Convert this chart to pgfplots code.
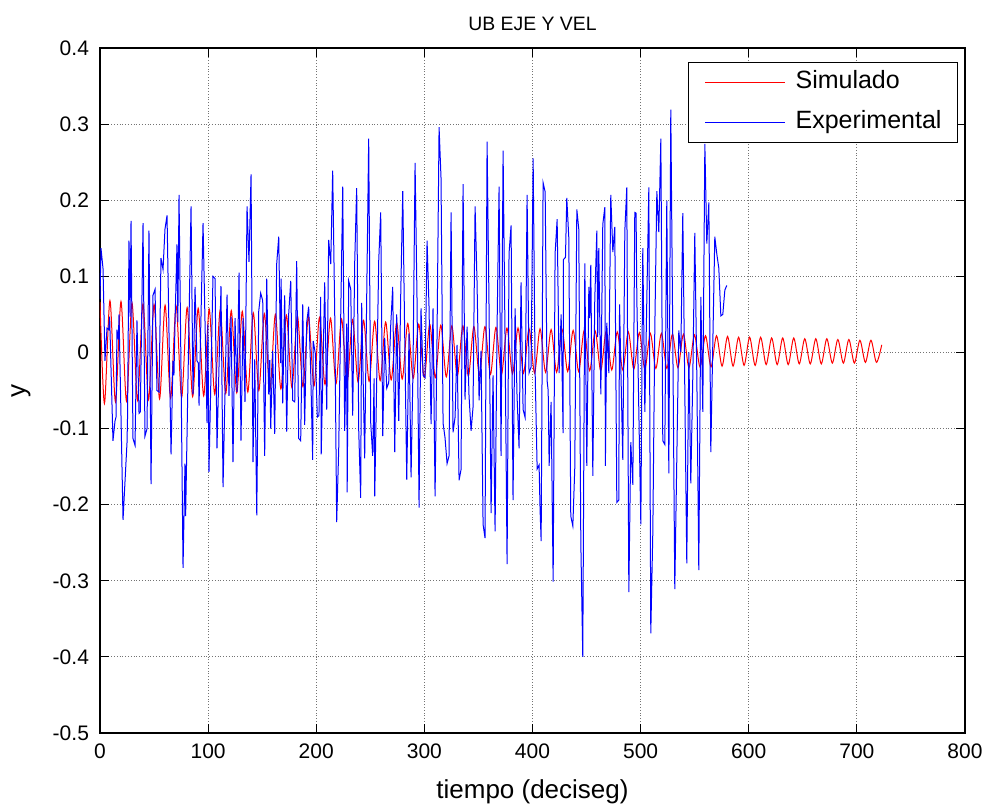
\documentclass[border=0pt]{standalone}
\usepackage{fontspec}
\setmainfont{Liberation Sans}
\usepackage{pgfplots}
\pgfplotsset{compat=1.18}

\begin{document}
\begin{tikzpicture}
\begin{axis}[
  width=432.5pt, height=342.5pt, scale only axis,
  xmin=0, xmax=800, ymin=-0.5, ymax=0.4,
  xtick={0,100,200,300,400,500,600,700,800},
  xticklabels={0,100,200,300,400,500,600,700,800},
  ytick={-0.5,-0.4,-0.3,-0.2,-0.1,0,0.1,0.2,0.3,0.4},
  yticklabels={-0.5,-0.4,-0.3,-0.2,-0.1,0,0.1,0.2,0.3,0.4},
  tick align=inside,
  major tick length=4.3pt,
  tick style={black, line width=0.5pt},
  axis line style={black, line width=0.6pt},
  grid=major,
  major grid style={densely dotted, black!55, line width=0.4pt},
  font=\fontsize{10.5}{12}\selectfont,
  ticklabel style={font=\fontsize{10.5}{12}\selectfont},
  xticklabel style={yshift=-2pt},
  yticklabel style={xshift=-2pt},
  title={UB EJE Y VEL},
  title style={at={(axis description cs:0.5,1)}, anchor=base, yshift=3pt,
    font=\fontsize{9.7}{11}\selectfont},
  xlabel={tiempo (deciseg)},
  xlabel style={at={(axis description cs:0.5,0)}, anchor=base, yshift=-32.5pt,
    font=\fontsize{13}{15}\selectfont},
  ylabel={y},
  ylabel style={at={(axis description cs:-0.0913,0.5)}, anchor=center, rotate=0,
    font=\fontsize{13}{15}\selectfont},
  legend cell align=left,
  legend image code/.code={\draw[#1] (0pt,0pt) -- (40pt,0pt);},
  legend style={
    at={(rel axis cs:1,1)}, anchor=north east, xshift=-3.5pt, yshift=-7pt,
    draw=black, line width=0.5pt, fill=white,
    font=\fontsize{12.5}{14}\selectfont,
    inner xsep=8pt, inner ysep=4.2pt, row sep=8.4pt,
    nodes={inner sep=0pt, text height=9pt, text depth=2.6pt},
    /tikz/every odd column/.append style={column sep=5pt},
  },
]

% simulated response: successive crests and troughs of the damped oscillation
\addplot[red, line width=0.5pt, smooth] coordinates {
(0,0.066) (4.1,-0.067) (9.2,0.068) (14.3,-0.065) (19.4,0.067) (24.5,-0.064)
(29.6,0.065) (34.7,-0.063) (39.8,0.064) (44.9,-0.062) (50.0,0.063) (55.1,-0.061)
(60.2,0.062) (65.3,-0.060) (70.4,0.061) (75.5,-0.059) (80.6,0.059) (85.7,-0.058)
(90.8,0.058) (95.9,-0.057) (101.0,0.057) (106.1,-0.055) (111.2,0.056) (116.3,-0.054)
(121.4,0.055) (126.5,-0.053) (131.6,0.054) (136.7,-0.052) (141.8,0.052) (146.9,-0.050)
(152.0,0.051) (157.1,-0.049) (162.2,0.050) (167.3,-0.048) (172.4,0.049) (177.5,-0.046)
(182.6,0.048) (187.7,-0.045) (192.8,0.047) (197.9,-0.044) (203.0,0.046) (208.1,-0.042)
(213.2,0.045) (218.3,-0.041) (223.4,0.044) (228.5,-0.040) (233.6,0.043) (238.7,-0.039)
(243.8,0.042) (248.9,-0.038) (254.0,0.041) (259.1,-0.037) (264.2,0.040) (269.3,-0.036)
(274.4,0.039) (279.5,-0.035) (284.6,0.038) (289.7,-0.034) (294.8,0.037) (299.9,-0.033)
(305.0,0.037) (310.1,-0.033) (315.2,0.036) (320.3,-0.032) (325.4,0.035) (330.5,-0.031)
(335.6,0.035) (340.7,-0.031) (345.8,0.034) (350.9,-0.030) (356.0,0.034) (361.1,-0.029)
(366.2,0.033) (371.3,-0.029) (376.4,0.032) (381.5,-0.028) (386.6,0.032) (391.7,-0.027)
(396.8,0.031) (401.9,-0.027) (407.0,0.031) (412.1,-0.026) (417.2,0.030) (422.3,-0.026)
(427.4,0.030) (432.5,-0.025) (437.6,0.029) (442.7,-0.025) (447.8,0.029) (452.9,-0.024)
(458.0,0.028) (463.1,-0.024) (468.2,0.028) (473.3,-0.023) (478.4,0.027) (483.5,-0.023)
(488.6,0.027) (493.7,-0.022) (498.8,0.026) (503.9,-0.022) (509.0,0.025) (514.1,-0.021)
(519.2,0.025) (524.3,-0.021) (529.4,0.024) (534.5,-0.020) (539.6,0.024) (544.7,-0.020)
(549.8,0.023) (554.9,-0.019) (560.0,0.022) (565.1,-0.019) (570.2,0.022) (575.3,-0.018)
(580.4,0.021) (585.5,-0.018) (590.6,0.020) (595.7,-0.017) (600.8,0.020) (605.9,-0.017)
(611.0,0.020) (616.1,-0.016) (621.2,0.019) (626.3,-0.016) (631.4,0.019) (636.5,-0.016)
(641.6,0.019) (646.7,-0.015) (651.8,0.018) (656.9,-0.015) (662.0,0.018) (667.1,-0.015)
(672.2,0.018) (677.3,-0.014) (682.4,0.017) (687.5,-0.014) (692.6,0.017) (697.7,-0.014)
(702.8,0.016) (707.9,-0.013) (713.0,0.016) (718.1,-0.013) (723.0,0.010)
};

% measured response
\addplot[blue, line width=0.5pt] coordinates {
(0.0,0.07) (0.9,0.137) (2.8,0.11) (4.6,-0.011) (6.5,0.032) (8.0,0.03) (8.9,0.047)
(12.0,-0.116) (13.9,-0.09) (14.8,-0.085) (15.7,0.03) (17.0,0.017) (17.6,0.05)
(21.3,-0.22) (25.0,-0.118) (25.5,-0.083) (26.8,0.147) (27.8,0.047) (28.7,0.173)
(30.5,-0.113) (32.4,-0.122) (34.2,0.042) (36.1,-0.08) (37.3,-0.078) (39.8,0.17)
(41.6,-0.11) (43.5,-0.1) (45.3,0.16) (47.2,-0.173) (49.0,0.075) (50.9,0.083)
(52.7,-0.05) (54.6,-0.052) (56.4,0.124) (58.3,0.109) (60.1,0.162) (62.0,0.18)
(65.7,-0.134) (67.5,-0.011) (68.4,-0.03) (69.4,0.04) (71.2,0.142) (72.0,0.04)
(73.1,0.207) (74.9,-0.02) (76.8,-0.283) (78.6,-0.146) (79.2,-0.215) (82.3,0.04)
(84.2,0.192) (86.0,-0.055) (87.9,0.086) (89.7,-0.011) (91.0,-0.014) (91.6,-0.07)
(95.3,0.17) (99.0,-0.093) (99.8,0.037) (100.8,-0.157) (104.5,0.1) (106.4,0.097)
(108.2,-0.126) (111.9,0.087) (113.8,-0.177) (117.5,0.076) (119.3,-0.057) (121.2,0.047)
(123.0,-0.144) (124.9,0.045) (126.7,-0.052) (128.6,0.105) (130.4,-0.116) (132.3,0.045)
(134.1,-0.065) (136.0,0.192) (137.8,0.119) (139.7,0.234) (141.5,-0.144)
(143.1,-0.009) (145.0,-0.214) (146.8,0.054) (148.6,0.078) (150.5,0.068) (152.3,-0.136)
(154.2,0.097) (156.0,-0.055) (157.0,-0.01) (157.9,-0.1) (159.7,0.002) (161.6,-0.107)
(163.4,0.116) (165.3,0.152) (167.1,-0.014) (167.5,0.097) (169.0,-0.067) (170.8,0.075)
(172.7,-0.104) (174.5,0.05) (176.4,0.094) (178.2,-0.063) (180.1,-0.065) (181.9,0.12)
(183.8,-0.113) (185.6,-0.116) (187.5,0.063) (189.3,-0.095) (191.2,0.04) (193.0,0.06)
(194.9,-0.027) (196.7,-0.141) (197.2,0.015) (199.2,-0.002) (201.0,-0.085) (202.5,-0.083)
(204.1,0.073) (204.6,-0.134) (207.8,0.092) (209.7,-0.075) (211.5,0.148) (213.4,0.116)
(215.2,0.239) (217.1,0.05) (218.9,-0.223) (220.8,-0.126) (222.6,0.045) (224.5,0.218)
(226.3,-0.103) (228.2,0.038) (228.6,-0.184) (230.0,0.094) (231.9,0.083) (233.7,-0.083)
(235.6,0.12) (237.4,0.216) (239.3,-0.103) (241.1,-0.191) (242.0,0.065) (244.8,-0.139)
(248.5,0.281) (250.4,-0.093) (252.2,-0.136) (253.5,-0.034) (254.1,-0.189) (257.8,0.121)
(259.6,0.184) (261.5,-0.11) (263.3,0.019) (265.2,-0.047) (267.0,-0.04) (268.9,0.036)
(270.7,0.086) (272.6,-0.131) (274.4,0.05) (276.3,-0.09) (278.1,0.073) (280.0,0.212)
(281.8,0.024) (283.7,-0.167)
(285.8,0.025) (287.7,-0.164) (289.5,-0.02) (291.4,0.249) (293.2,0.07) (295.1,-0.204)
(296.9,0.058) (298.8,-0.03) (300.6,-0.033) (302.5,0.147) (304.3,0.06) (306.2,-0.094)
(308.0,0.058) (309.9,-0.189) (311.7,0.02) (313.6,0.296) (315.4,0.229) (317.3,-0.093)
(319.1,-0.112) (321.0,-0.146) (322.8,-0.136) (324.7,0.184) (326.5,-0.105) (328.4,-0.085)
(330.2,0.01) (332.1,-0.168) (333.9,-0.154) (335.8,0.221) (337.6,-0.062) (339.5,0.034)
(341.3,-0.057) (343.2,-0.103) (345.0,-0.072) (346.9,0.192) (348.7,0.093) (350.6,-0.063)
(352.4,0.002) (354.3,-0.226) (356.1,-0.244) (358.0,0.277) (359.8,0.06) (361.7,-0.211)
(363.5,-0.03) (365.4,-0.235) (367.2,0.03) (369.1,0.218) (370.9,-0.136) (372.8,0.265)
(374.6,0.02) (376.5,-0.278) (378.3,0.13) (380.2,0.167) (382.0,-0.194) (383.9,0.058)
(385.7,-0.057) (387.6,-0.126) (389.4,0.092) (391.3,-0.075) (393.1,-0.085) (395.0,0.207)
(396.8,-0.027) (398.7,-0.019) (400.6,0.255) (402.4,-0.022) (404.3,-0.153) (406.1,-0.148)
(407.0,-0.206) (408.0,-0.248) (409.8,0.223) (411.7,0.211) (413.5,-0.037) (414.5,-0.05)
(415.4,-0.149) (417.2,-0.065) (419.1,-0.301) (420.9,0.13) (422.8,0.175) (424.6,-0.027)
(426.5,0.05) (428.3,-0.106)
(428.6,0.122) (430.5,0.125) (431.7,0.203) (433.6,0.15) (435.4,-0.215) (437.3,-0.228)
(439.1,-0.152) (441.0,0.188) (442.8,0.162) (444.7,-0.25) (446.5,-0.4) (448.4,0.117)
(450.2,-0.149) (452.1,0.086) (452.9,0.045) (453.9,0.115) (455.8,-0.162) (457.6,0.07)
(459.5,0.16) (460.3,0.02) (461.3,0.137) (463.2,-0.055) (465.0,0.168) (466.9,0.191)
(467.4,-0.149) (468.7,0.039) (470.6,-0.027) (472.4,0.207) (474.3,0.132) (476.1,0.165)
(478.0,-0.197) (479.8,-0.194) (480.5,0.063) (483.5,-0.141) (485.4,0.16) (487.2,0.217)
(489.1,-0.315) (490.9,-0.118) (492.8,-0.174) (494.6,0.184) (495.8,0.183) (496.5,0.071)
(500.2,-0.226) (502.0,0.137) (503.9,-0.078) (505.2,0.027) (507.6,0.217) (509.4,-0.369)
(511.3,-0.235) (513.1,0.029) (515.0,0.212) (516.8,0.158) (518.7,0.281) (520.5,-0.116)
(522.4,-0.121) (524.2,0.199) (526.1,-0.159) (527.9,0.319) (529.8,0.01) (531.6,-0.311)
(535.3,0.029) (537.2,0.0) (539.0,0.183) (542.7,-0.277) (544.6,0.0) (546.4,-0.172)
(548.3,-0.029) (550.1,0.157) (552.0,-0.032) (553.8,-0.286) (555.7,0.073) (557.5,-0.078)
(559.4,0.274) (561.2,0.143) (563.1,0.197) (564.9,-0.131) (568.6,0.152) (570.5,0.129)
(572.3,0.111) (574.2,0.048) (576.0,0.05) (577.9,0.082) (579.7,0.088)
};

\legend{Simulado, Experimental}
\end{axis}
% page margins around the plotting box
\path ([shift={(-50pt,-37pt)}]current axis.south west)
  rectangle ([shift={(15pt,24pt)}]current axis.north east);
\end{tikzpicture}
\end{document}
